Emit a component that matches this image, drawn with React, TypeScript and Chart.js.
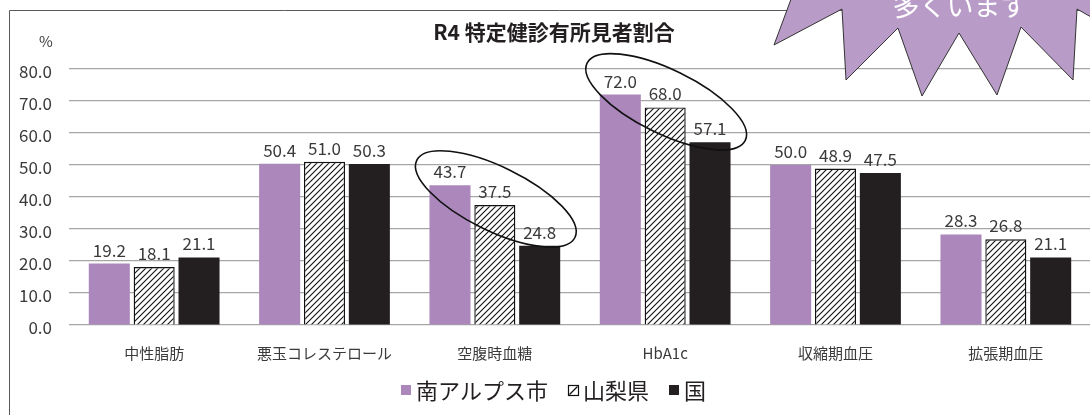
import React, { useEffect, useRef } from "react";
import { Chart, registerables } from "chart.js";

Chart.register(...registerables);

const chartTitle = "R4 特定健診有所見者割合";
const yUnit = "%";
const calloutText = "多くいます";
const categories = ["中性脂肪", "悪玉コレステロール", "空腹時血糖", "HbA1c", "収縮期血圧", "拡張期血圧"];
const seriesNames = ["南アルプス市", "山梨県", "国"];
const minamiAlpsValues = [19.2, 50.4, 43.7, 72.0, 50.0, 28.3];
const yamanashiValues = [18.1, 51.0, 37.5, 68.0, 48.9, 26.8];
const nationalValues = [21.1, 50.3, 24.8, 57.1, 47.5, 21.1];
const yMin = 0;
const yMax = 80;
const yStep = 10;
const highlightedCategories = [2, 3];

const FONT = '"Noto Sans CJK JP", "Noto Sans", sans-serif';
const PURPLE = "#AB87BC";
const BLACK = "#231F20";
const TEXT = "#3a3a3a";

function makeHatch(): CanvasPattern | string {
  const c = document.createElement("canvas");
  c.width = 6;
  c.height = 6;
  const g = c.getContext("2d");
  if (!g) return "#fff";
  g.fillStyle = "#fff";
  g.fillRect(0, 0, 6, 6);
  g.strokeStyle = "#111";
  g.lineWidth = 1.1;
  g.beginPath();
  g.moveTo(-1, 7);
  g.lineTo(7, -1);
  g.moveTo(-1, 1);
  g.lineTo(1, -1);
  g.moveTo(5, 7);
  g.lineTo(7, 5);
  g.stroke();
  const p = g.createPattern(c, "repeat");
  return p || "#fff";
}

const decorPlugin = {
  id: "decor",
  beforeDraw(chart: any) {
    const ctx = chart.ctx;
    ctx.save();
    ctx.fillStyle = "#fff";
    ctx.fillRect(0, 0, chart.width, chart.height);
    ctx.strokeStyle = "#5a5a5a";
    ctx.lineWidth = 1;
    ctx.beginPath();
    ctx.moveTo(9.5, chart.height);
    ctx.lineTo(9.5, 10.5);
    ctx.lineTo(chart.width, 10.5);
    ctx.stroke();
    ctx.restore();
  },
  afterDatasetsDraw(chart: any) {
    const ctx = chart.ctx;
    ctx.save();
    ctx.font = `17px ${FONT}`;
    ctx.fillStyle = TEXT;
    ctx.textAlign = "center";
    ctx.textBaseline = "alphabetic";
    chart.data.datasets.forEach((ds: any, di: number) => {
      const meta = chart.getDatasetMeta(di);
      meta.data.forEach((bar: any, i: number) => {
        const v = ds.data[i] as number;
        ctx.fillText(v.toFixed(1), bar.x, bar.y - 7);
      });
    });
    // highlight ellipses
    const xs = chart.scales.x;
    const ys = chart.scales.y;
    ctx.strokeStyle = "#111";
    ctx.lineWidth = 1.6;
    highlightedCategories.forEach((ci) => {
      const vals = chart.data.datasets.map((d: any) => d.data[ci] as number);
      const mean = vals.reduce((a: number, b: number) => a + b, 0) / vals.length;
      const cx = xs.getPixelForValue(ci) + 1;
      const cy = ys.getPixelForValue(mean) - 13;
      ctx.beginPath();
      ctx.ellipse(cx, cy, 88, 32, (26 * Math.PI) / 180, 0, Math.PI * 2);
      ctx.stroke();
    });
    ctx.restore();
  },
  afterDraw(chart: any) {
    const ctx = chart.ctx;
    ctx.save();
    // title
    ctx.fillStyle = "#231F20";
    ctx.font = `bold 21px ${FONT}`;
    ctx.textAlign = "center";
    ctx.textBaseline = "middle";
    ctx.fillText(chartTitle, 554, 32);
    // unit
    ctx.font = `15px ${FONT}`;
    ctx.fillStyle = TEXT;
    ctx.fillText(yUnit, 46, 41);

    // legend
    ctx.font = `22px ${FONT}`;
    ctx.textAlign = "left";
    ctx.textBaseline = "middle";
    const box = 10;
    const gapBox = 5;
    const gapItem = 20;
    const widths = seriesNames.map((n) => ctx.measureText(n).width);
    const total = widths.reduce((a, w) => a + box + gapBox + w, 0) + gapItem * (seriesNames.length - 1);
    let lx = 553.5 - total / 2;
    const ly = 390;
    seriesNames.forEach((name, i) => {
      if (i === 0) {
        ctx.fillStyle = PURPLE;
        ctx.fillRect(lx, ly - box / 2, box, box);
      } else if (i === 1) {
        ctx.strokeStyle = "#111";
        ctx.lineWidth = 1.2;
        ctx.strokeRect(lx + 0.5, ly - box / 2 + 0.5, box, box);
        ctx.beginPath();
        ctx.moveTo(lx + 1.5, ly + box / 2 - 0.5);
        ctx.lineTo(lx + box - 0.5, ly - box / 2 + 1.5);
        ctx.stroke();
      } else {
        ctx.fillStyle = BLACK;
        ctx.fillRect(lx, ly - box / 2, box, box);
      }
      ctx.fillStyle = "#231F20";
      ctx.fillText(name, lx + box + gapBox, ly + 1);
      lx += box + gapBox + widths[i] + gapItem;
    });

    // starburst callout
    const pts: [number, number][] = [
      [800, -25],
      [774, 45],
      [842, 9],
      [846, 80],
      [898, 28],
      [922, 96],
      [959, 33],
      [997, 95],
      [1021, 27],
      [1073, 80],
      [1077, 9],
      [1135, 42],
      [1110, -40],
      [960, -70],
    ];
    ctx.beginPath();
    pts.forEach(([x, y], i) => (i === 0 ? ctx.moveTo(x, y) : ctx.lineTo(x, y)));
    ctx.closePath();
    ctx.fillStyle = "#B99BC8";
    ctx.fill();
    ctx.strokeStyle = "#333";
    ctx.lineWidth = 1;
    ctx.stroke();
    ctx.fillStyle = "#fff";
    ctx.font = `27px ${FONT}`;
    ctx.textAlign = "center";
    ctx.textBaseline = "middle";
    ctx.fillText(calloutText, 960, 6);
    ctx.restore();
  },
};

export default function App() {
  const ref = useRef<HTMLCanvasElement | null>(null);
  useEffect(() => {
    if (!ref.current) return;
    const hatch = makeHatch();
    const chart = new Chart(ref.current, {
      type: "bar",
      data: {
        labels: categories,
        datasets: [
          {
            label: seriesNames[0],
            data: minamiAlpsValues,
            backgroundColor: PURPLE,
            borderWidth: 0,
          },
          {
            label: seriesNames[1],
            data: yamanashiValues,
            backgroundColor: hatch as any,
            borderColor: "#111",
            borderWidth: 1.4,
          },
          {
            label: seriesNames[2],
            data: nationalValues,
            backgroundColor: BLACK,
            borderWidth: 0,
          },
        ],
      },
      options: {
        responsive: false,
        animation: false,
        devicePixelRatio: 1,
        layout: { padding: { left: 0, right: 19, top: 69, bottom: 0 } },
        datasets: {
          bar: { categoryPercentage: 0.79, barPercentage: 0.915 },
        },
        plugins: {
          legend: { display: false },
          title: { display: false },
          tooltip: { enabled: false },
        },
        scales: {
          x: {
            grid: { display: false },
            border: { display: false },
            ticks: {
              color: TEXT,
              font: { family: FONT, size: 15 },
              padding: 11,
              maxRotation: 0,
              autoSkip: false,
            },
            afterFit: (s: any) => {
              s.height = 90;
            },
          },
          y: {
            min: yMin,
            max: yMax,
            grid: { color: "#a6a6a6", lineWidth: 1.2, drawTicks: false },
            border: { display: false },
            ticks: {
              stepSize: yStep,
              color: TEXT,
              font: { family: FONT, size: 17 },
              padding: 17,
              labelOffset: 3,
              callback: (v: any) => Number(v).toFixed(1),
            },
            afterFit: (s: any) => {
              s.width = 69;
            },
          },
        },
      },
      plugins: [decorPlugin],
    });
    return () => chart.destroy();
  }, []);
  return (
    <div
      style={{
        position: "fixed",
        left: 0,
        top: 0,
        width: 1090,
        height: 415,
        overflow: "hidden",
        background: "#fff",
      }}
    >
      <canvas ref={ref} width={1110} height={415} style={{ display: "block", width: 1110, height: 415 }} />
    </div>
  );
}
